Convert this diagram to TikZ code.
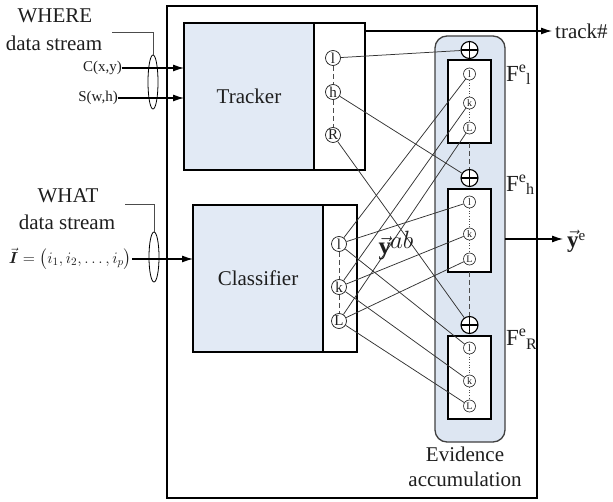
\RequirePackage{fix-cm}
\documentclass[tikz,border=0pt]{standalone}
\usepackage{amsmath}
\usepackage{fontspec}
\setmainfont{Liberation Serif}
\newfontfamily\tnr{Liberation Serif}
\usetikzlibrary{arrows.meta,shapes.geometric}
\definecolor{blueF}{HTML}{E2EAF5}
\definecolor{accF}{HTML}{DDE6F2}
\definecolor{ink}{HTML}{1E1E1E}
\begin{document}
\begin{tikzpicture}[x=1pt,y=-1pt,
  every node/.style={text=ink},
  lbl/.style={font=\tnr\fontsize{21}{25}\selectfont, inner sep=0pt},
  small/.style={font=\tnr\fontsize{15}{17}\selectfont, inner sep=0pt},
  blk/.style={draw=black, line width=2.2pt, fill=blueF, inner sep=0pt, outer sep=0pt, anchor=north west},
  pan/.style={draw=black, line width=1.5pt, fill=white, inner sep=0pt, outer sep=0pt, anchor=north west},
  sc/.style={circle, draw=ink, line width=0.7pt, fill=white, minimum size=15pt, inner sep=0pt, font=\tnr\fontsize{15}{15}\selectfont},
  fc/.style={circle, draw=ink, line width=0.6pt, fill=white, minimum size=12pt, inner sep=0pt, font=\tnr\fontsize{10}{10}\selectfont},
  plusc/.style={circle, draw=black, line width=1.1pt, fill=white, minimum size=17pt, inner sep=0pt,
    path picture={\draw[line width=1.1pt] (path picture bounding box.north) -- (path picture bounding box.south)
      (path picture bounding box.east) -- (path picture bounding box.west);}},
  wire/.style={draw=black!80, line width=0.75pt},
  thin/.style={draw=black!70, line width=0.9pt},
  arr/.style={-{Latex[length=11pt,width=7pt]}, line width=1.1pt, draw=black},
  flab/.style={anchor=base west, inner sep=0pt, font=\tnr\fontsize{23}{25}\selectfont}
]
\useasboundingbox (0,0) rectangle (613,502);

% outer frame
\node[draw=black, line width=2.2pt, minimum width=370pt, minimum height=492pt, inner sep=0pt, outer sep=0pt, anchor=north west] (frame) at (167,6) {};

% tracker
\node[blk, minimum width=130pt, minimum height=147pt] (trk) at (184,23) {};
\node at (trk.center) [lbl] (trkt) {Tracker};
\node[pan, minimum width=51pt, minimum height=147pt] (trp) at (314,23) {};
\node[blk, fill=none, minimum width=181pt, minimum height=147pt] (trkall) at (184,23) {};

% classifier
\node[blk, line width=2pt, minimum width=130pt, minimum height=147pt] (cls) at (193,205) {};
\node at (cls.center) [lbl] (clst) {Classifier};
\node[pan, minimum width=34pt, minimum height=147pt] (clp) at (323,205) {};
\node[blk, line width=2pt, fill=none, minimum width=130pt, minimum height=147pt] (clsb) at (193,205) {};

% evidence accumulation column
\node[draw=black!75, line width=1.3pt, fill=accF, rounded corners=12pt, minimum width=70pt, minimum height=406pt, inner sep=0pt, outer sep=0pt, anchor=north west] (acc) at (435,36) {};

\node[pan, line width=1.3pt, minimum width=43pt, minimum height=83pt] (f1) at (448,60) {};
\node[pan, line width=1.3pt, minimum width=43pt, minimum height=83pt] (fh) at (448,189) {};
\node[pan, line width=1.3pt, minimum width=43pt, minimum height=83pt] (fr) at (448,336) {};

\node[plusc] (p1) at (469.5,50) {};
\node[plusc] (ph) at (469.5,178) {};
\node[plusc] (pr) at (469.5,325) {};

\draw[thin, dash pattern=on 5pt off 3pt] (f1.south) -- (ph.north);
\draw[thin, dash pattern=on 5pt off 3pt] (fh.south) -- (pr.north);

% F box circles
\node[fc] (f1a) at (469.5,74) {l};
\node[fc] (f1b) at (469.5,103) {k};
\node[fc] (f1c) at (469.5,128) {L};
\node[fc] (fha) at (469.5,202) {l};
\node[fc] (fhb) at (469.5,234) {k};
\node[fc] (fhc) at (469.5,259) {L};
\node[fc] (fra) at (469.5,348) {l};
\node[fc] (frb) at (469.5,381) {k};
\node[fc] (frc) at (469.5,406) {L};
\foreach \f in {f1,fh,fr}{
  \draw[black!70, line width=0.6pt, dotted] (\f a) -- (\f b) -- (\f c);
}

% tracker circles
\node[sc] (tl) at (333,58) {l};
\node[sc] (th) at (333,92) {h};
\node[sc] (tR) at (333,135) {R};
\draw[thin, dash pattern=on 5pt off 3pt] (tl) -- (th) -- (tR);

% classifier circles
\node[sc] (cl) at (339,244) {l};
\node[sc] (ck) at (339,287) {k};
\node[sc] (cL) at (339,321) {L};
\draw[thin, dash pattern=on 5pt off 3pt] (cl) -- (ck) -- (cL);

% connections
\draw[wire] (tl) -- (p1);
\draw[wire] (th) -- (ph);
\draw[wire] (tR) -- (pr);
\foreach \f in {f1,fh,fr}{
  \draw[wire] (cl) -- (\f a);
  \draw[wire] (ck) -- (\f b);
  \draw[wire] (cL) -- (\f c);
}

% F labels
\node[flab] (F1) at (506,82) {F\raisebox{9pt}{\fontsize{16}{16}\selectfont e}\raisebox{-3pt}{\fontsize{16}{16}\selectfont l}};
\node[flab] (Fh) at (506,192) {F\raisebox{9pt}{\fontsize{16}{16}\selectfont e}\raisebox{-3pt}{\fontsize{16}{16}\selectfont h}};
\node[flab] (FR) at (506,346) {F\raisebox{9pt}{\fontsize{16}{16}\selectfont e}\raisebox{-4pt}{\fontsize{16}{16}\selectfont R}};

% y^ab
\node[inner sep=0pt, font=\fontsize{25}{27}\selectfont] (yab) at (396,246) {$\vec{\mathbf{y}}\kern-1pt\raisebox{6pt}{$\textstyle ab$}$};

% output
\node[anchor=west, inner sep=0pt, font=\tnr\fontsize{23}{25}\selectfont] (ye) at (567,241) {$\vec{\mathbf{y}}$\raisebox{7pt}{\fontsize{15}{15}\selectfont e}};
\coordinate (yo) at (563,239);
\draw[arr] (acc.east |- yo) -- (yo);

% track#
\node[anchor=west, lbl] (trh) at (555,31) {track\#};
\coordinate (tro) at (552,31);
\draw[arr] (trp.east |- tro) -- (tro);

% evidence accumulation label
\node[lbl, align=center] (evl) at (465,467) {Evidence\\accumulation};

% WHERE input
\node[lbl] (where) at (55,16) {WHERE};
\node[lbl] (wds) at (54,43) {data stream};
\node[small, anchor=east] (cxy) at (122,68) {C(x,y)};
\node[small, anchor=east] (swh) at (118,98) {S(w,h)};
\draw[arr] (cxy.east) -- (trk.west |- cxy.east);
\draw[arr] (swh.east) -- (trk.west |- swh.east);
\node[ellipse, draw=black, line width=0.8pt, minimum width=10pt, minimum height=54pt, inner sep=0pt] (e1) at (153,82) {};
\coordinate (l1) at (112,32);
\draw[thin, line width=0.7pt] (l1) -- (l1 -| e1.north) -- (e1.north);

% WHAT input
\node[lbl] (what) at (68,196) {WHAT};
\node[lbl] (wtds) at (67,222) {data stream};
\node[anchor=east, inner sep=0pt, font=\fontsize{16}{18}\selectfont] (form) at (132,259)
  {$\vec{\boldsymbol{I}}=\bigl(i_1,i_2,\ldots,i_p\bigr)$};
\draw[arr] (form.east) -- (cls.west |- form.east);
\node[ellipse, draw=black, line width=0.8pt, minimum width=10pt, minimum height=50pt, inner sep=0pt] (e2) at (154,257) {};
\coordinate (l2) at (125,204);
\draw[thin, line width=0.7pt] (l2) -- (l2 -| e2.north) -- (e2.north);
\end{tikzpicture}
\end{document}
